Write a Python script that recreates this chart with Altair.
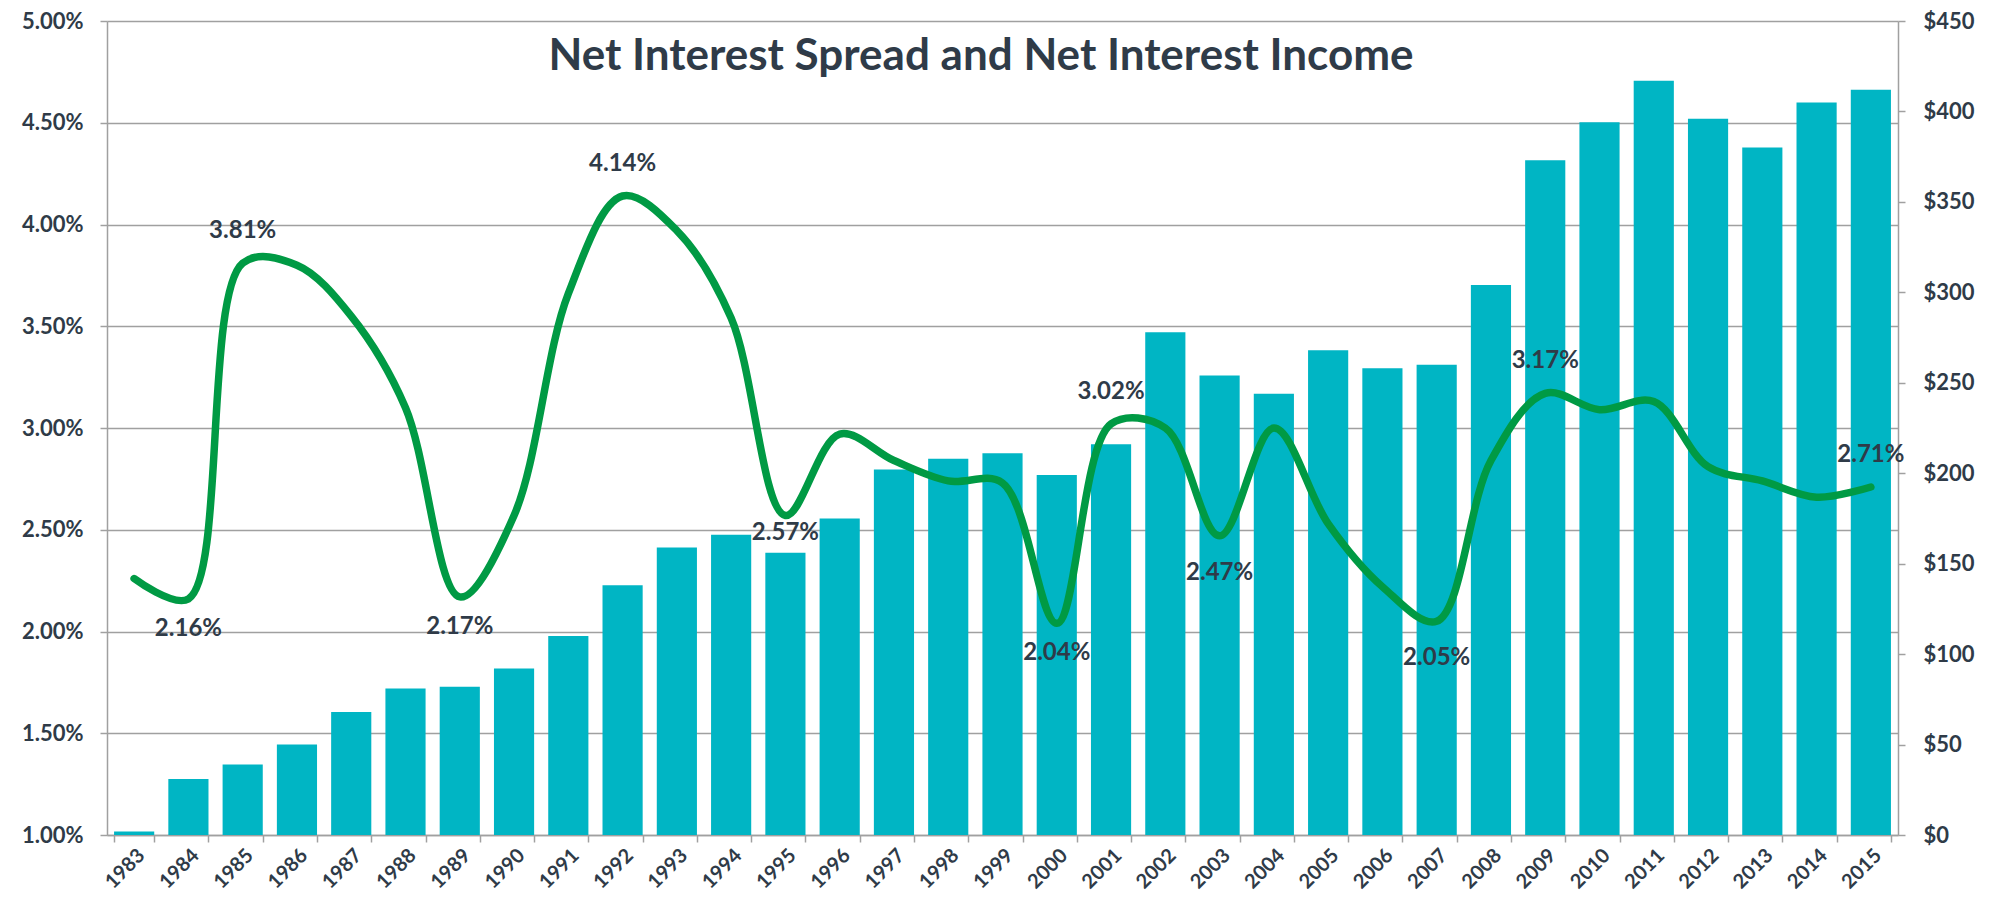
import altair as alt
import pandas as pd

years = [str(y) for y in range(1983, 2016)]
income = [2, 31, 39, 50, 68, 81, 82, 92, 110, 138, 159, 166, 156, 175, 202, 208, 211,
          199, 216, 278, 254, 244, 268, 258, 260, 304, 373, 394, 417, 396, 380, 405, 412]
spread_pct = [2.26, 2.16, 3.81, 3.80, 3.55, 3.10, 2.17, 2.57, 3.66, 4.14, 3.97, 3.54,
              2.57, 2.97, 2.84, 2.74, 2.73, 2.04, 3.02, 3.00, 2.47, 3.00, 2.53, 2.22,
              2.05, 2.84, 3.17, 3.09, 3.13, 2.81, 2.74, 2.66, 2.71]
labels_above = ["1985", "1992", "2001", "2009", "2015"]
labels_below = ["1984", "1989", "2000"]
labels_below_near = ["1995"]
labels_below_far = ["2003", "2007"]
title_text = "Net Interest Spread and Net Interest Income"

FONT = "Lato"
TXT = "#2F3B48"
GRID = "#A0A0A0"
BAR = "#00B5C4"
LINE = "#009A44"

df = pd.DataFrame({"year": years, "income": income,
                   "spread": [v / 100 for v in spread_pct]})

x_enc = alt.X("year:O", sort=None,
              scale=alt.Scale(paddingInner=0.26, paddingOuter=0.13),
              axis=alt.Axis(title=None, labelAngle=-45, tickBand="extent",
                            labelFont=FONT, labelFontSize=20, labelFontWeight="bold",
                            labelColor=TXT, labelPadding=3, tickSize=7,
                            tickColor=GRID, tickWidth=1.5, domainColor=GRID,
                            domainWidth=1.5, grid=False))

y_line = alt.Y("spread:Q",
               scale=alt.Scale(domain=[0.01, 0.05], nice=False, zero=False),
               axis=alt.Axis(orient="left", title=None, format=".2%",
                             values=[0.01 + 0.005 * i for i in range(9)],
                             grid=True, gridColor=GRID, gridWidth=1.5,
                             labelFont=FONT, labelFontSize=22, labelFontWeight="bold",
                             labelColor=TXT, labelPadding=17, tickSize=7,
                             tickColor=GRID, tickWidth=1.5, domainColor=GRID,
                             domainWidth=1.5))

bars = alt.Chart(df).mark_bar(color=BAR).encode(
    x=x_enc,
    y=alt.Y("income:Q", scale=alt.Scale(domain=[0, 450], nice=False),
            axis=alt.Axis(orient="right", title=None, format="$,.0f",
                          values=list(range(0, 451, 50)), grid=False,
                          labelFont=FONT, labelFontSize=22, labelFontWeight="bold",
                          labelColor=TXT, labelPadding=18, tickSize=7,
                          tickColor=GRID, tickWidth=1.5, domainColor=GRID,
                          domainWidth=1.5)),
)

line = alt.Chart(df).mark_line(color=LINE, strokeWidth=7.5, interpolate="catmull-rom",
                               strokeCap="round", strokeJoin="round").encode(
    x=x_enc, y=y_line)


def labels(years_sel, dy):
    sub = df[df["year"].isin(years_sel)]
    return alt.Chart(sub).mark_text(font=FONT, fontSize=24, fontWeight="bold",
                                    color=TXT, dy=dy).encode(
        x=x_enc, y=y_line, text=alt.Text("spread:Q", format=".2%"))


line_layer = alt.layer(line,
                       labels(labels_above, -32),
                       labels(labels_below, 30),
                       labels(labels_below_near, 17),
                       labels(labels_below_far, 37))

title = alt.Chart(pd.DataFrame({"t": [title_text]})).mark_text(
    font=FONT, fontSize=44, fontWeight="bold", color=TXT).encode(
    x=alt.value(874), y=alt.value(36), text="t:N")

chart = alt.layer(bars, line_layer, title).resolve_scale(y="independent").properties(
    width=1791, height=814,
    autosize=alt.AutoSizeParams(type="none"),
    padding={"left": 99, "top": 13, "right": 90, "bottom": 56},
).configure_view(stroke=None)

chart.save("out.html", embed_options={"renderer": "svg", "actions": False})
